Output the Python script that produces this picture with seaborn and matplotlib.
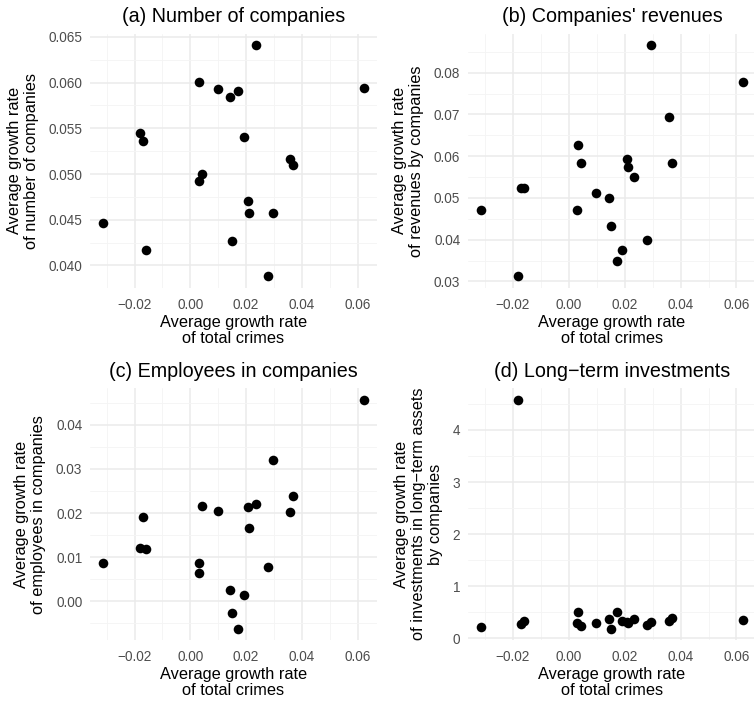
import matplotlib
matplotlib.use("Agg")
import matplotlib.pyplot as plt
from matplotlib.ticker import MultipleLocator, AutoMinorLocator, FuncFormatter
import pandas as pd
import seaborn as sns

# average growth rate of total crimes (shared x for all panels)
crimes = [-0.0313, -0.0180, -0.0171, -0.0160, 0.0030, 0.0033, 0.0043, 0.0098, 0.0143, 0.0151,
          0.0172, 0.0192, 0.0208, 0.0211, 0.0234, 0.0279, 0.0295, 0.0358, 0.0370, 0.0623]

companies = [0.0446, 0.0545, 0.0536, 0.0417, 0.0492, 0.0601, 0.0500, 0.0593, 0.0584, 0.0427,
             0.0591, 0.0540, 0.0470, 0.0457, 0.0641, 0.0388, 0.0457, 0.0517, 0.0510, 0.0594]

revenues = [0.0470, 0.0312, 0.0525, 0.0525, 0.0470, 0.0628, 0.0583, 0.0513, 0.0500, 0.0433,
            0.0350, 0.0376, 0.0594, 0.0574, 0.0550, 0.0400, 0.0866, 0.0695, 0.0583, 0.0777]

employees = [0.0086, 0.0121, 0.0192, 0.0118, 0.0064, 0.0086, 0.0215, 0.0205, 0.0026, -0.0026,
             -0.0062, 0.0015, 0.0213, 0.0166, 0.0220, 0.0077, 0.0321, 0.0202, 0.0238, 0.0457]

investments = [0.22, 4.58, 0.28, 0.33, 0.29, 0.50, 0.24, 0.29, 0.37, 0.19,
               0.50, 0.33, 0.32, 0.30, 0.38, 0.26, 0.31, 0.33, 0.40, 0.35]

df = pd.DataFrame({"crimes": crimes, "companies": companies, "revenues": revenues,
                   "employees": employees, "investments": investments})

panels = [
    ("companies", "(a) Number of companies",
     "Average growth rate\nof number of companies", 0.005, 3),
    ("revenues", "(b) Companies' revenues",
     "Average growth rate\nof revenues by companies", 0.01, 2),
    ("employees", "(c) Employees in companies",
     "Average growth rate\nof employees in companies", 0.01, 2),
    ("investments", "(d) Long\u2212term investments",
     "Average growth rate\nof investments in long\u2212term assets\nby companies", 1, 0),
]

sns.set_theme(style="white")
plt.rcParams['font.family'] = ['Liberation Sans', 'DejaVu Sans']

W, H = 754, 702
fig = plt.figure(figsize=(W / 100, H / 100), dpi=100)

# panel boxes in pixels: left, top, right, bottom
boxes = [(90, 33.6, 377, 288), (468, 33.6, 756, 288),
         (90, 388.3, 377, 640), (468, 388.3, 756, 640)]


def fmt(d):
    def f(v, pos):
        s = f"{round(v, d + 2):.{d}f}"
        if s.startswith("-") and float(s) == 0:
            s = s[1:]
        return s.replace("-", "\u2212")
    return FuncFormatter(f)


for (col, title, ylab, ystep, ydec), (l, t, r, b) in zip(panels, boxes):
    ax = fig.add_axes([l / W, 1 - b / H, (r - l) / W, (b - t) / H])
    sns.scatterplot(data=df, x="crimes", y=col, ax=ax, color="black",
                    s=48, linewidth=0, zorder=3)

    xmin, xmax = df["crimes"].min(), df["crimes"].max()
    ymin, ymax = df[col].min(), df[col].max()
    ax.set_xlim(xmin - 0.05 * (xmax - xmin), xmax + 0.05 * (xmax - xmin))
    ax.set_ylim(ymin - 0.05 * (ymax - ymin), ymax + 0.05 * (ymax - ymin))

    ax.xaxis.set_major_locator(MultipleLocator(0.02))
    ax.xaxis.set_minor_locator(AutoMinorLocator(2))
    ax.yaxis.set_major_locator(MultipleLocator(ystep))
    ax.yaxis.set_minor_locator(AutoMinorLocator(2))
    ax.xaxis.set_major_formatter(fmt(2))
    ax.yaxis.set_major_formatter(fmt(ydec))

    ax.grid(which="major", color="#EBEBEB", linewidth=1.1)
    ax.grid(which="minor", color="#F4F4F4", linewidth=0.6)
    ax.set_axisbelow(True)
    for sp in ax.spines.values():
        sp.set_visible(False)
    ax.tick_params(which="both", length=0, labelsize=9.8, labelcolor="#4D4D4D")
    ax.tick_params(axis="x", pad=7)
    ax.tick_params(axis="y", pad=5.5)

    ax.set_title(title, fontsize=14.2, color="black", pad=8)
    ax.set_xlabel("Average growth rate\nof total crimes", fontsize=11.8,
                  color="black", labelpad=2, linespacing=1.1)
    ax.set_ylabel(ylab, fontsize=11.8, color="black", labelpad=7, linespacing=1.15)

fig.savefig("out.png", dpi=100)
